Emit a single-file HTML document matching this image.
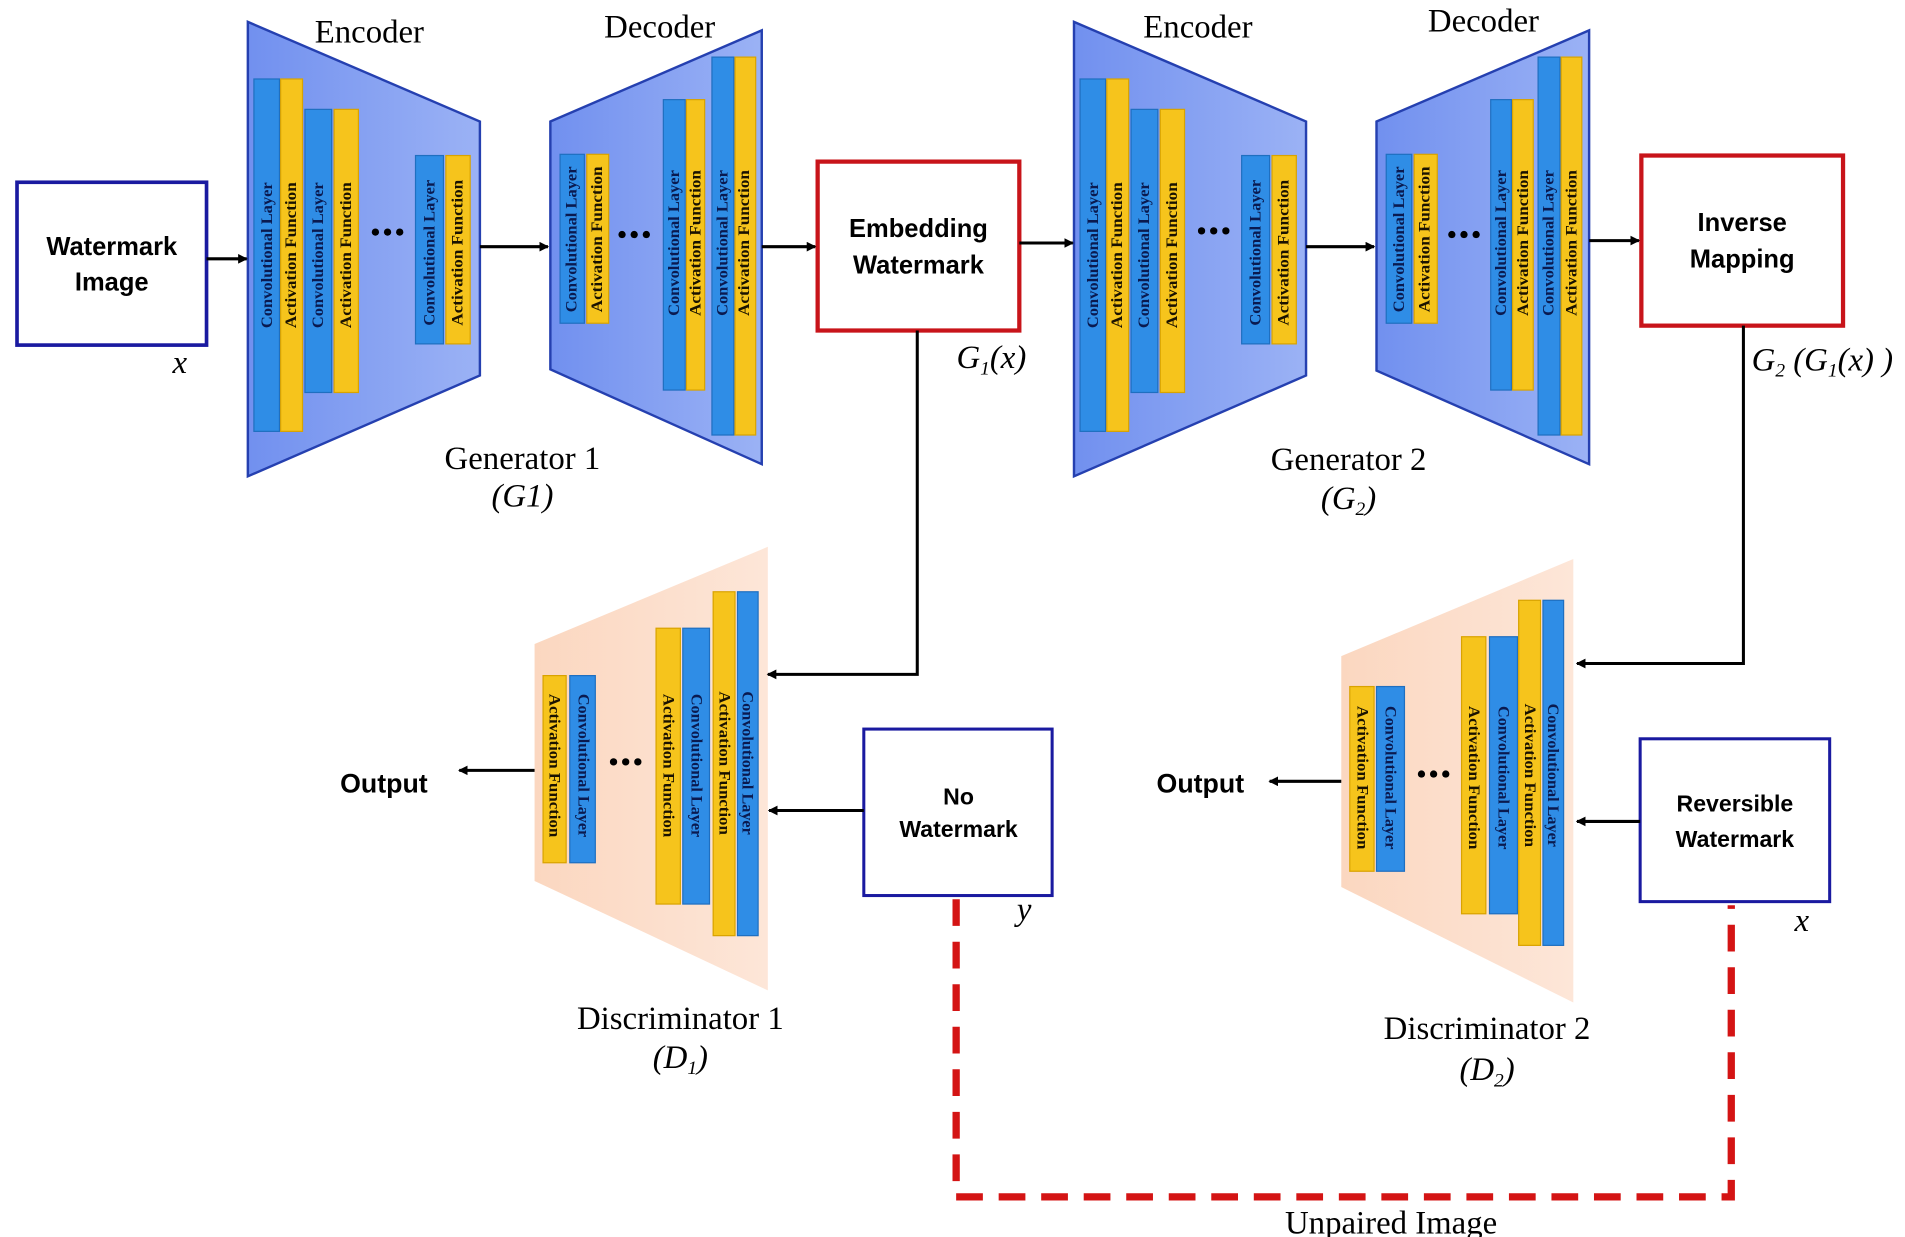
<!DOCTYPE html>
<html><head><meta charset="utf-8"><style>html,body{margin:0;padding:0;background:#fff}svg{display:block}</style></head>
<body>
<svg width="1905" height="1237" viewBox="0 0 1568 1018" preserveAspectRatio="none" xmlns="http://www.w3.org/2000/svg">
<defs>
<linearGradient id="gb" x1="0" x2="1"><stop offset="0" stop-color="#7190ef"/><stop offset="1" stop-color="#9bb2f5"/></linearGradient>
<linearGradient id="gp" x1="0" x2="1"><stop offset="0" stop-color="#fbd7c0"/><stop offset="1" stop-color="#fde6d8"/></linearGradient>
<marker id="ar" markerWidth="8" markerHeight="8" refX="7" refY="4" orient="auto" markerUnits="userSpaceOnUse"><path d="M0,0 L8,4 L0,8 Z" fill="#000"/></marker>
<style>
.lbl{font-family:"Liberation Serif",serif;font-size:27px;fill:#000}
.bx{font-family:"Liberation Sans",sans-serif;font-size:21px;font-weight:bold;fill:#000}
.bt{font-family:"Liberation Serif",serif;font-size:13px;font-weight:bold;fill:#0a1a50}
.yt{font-family:"Liberation Serif",serif;font-size:13px;font-weight:bold;fill:#1a1200}
.bl{fill:#2f8de6;stroke:#1f6fc0;stroke-width:1}
.yl{fill:#f6c41c;stroke:#d9a300;stroke-width:1}
</style>
</defs>

<polygon points="204,18 395,100 395,309 204,392" fill="url(#gb)" stroke="#2540b0" stroke-width="2"/>
<polygon points="453,100 627,25 627,382 453,304" fill="url(#gb)" stroke="#2540b0" stroke-width="2"/>
<polygon points="884,18 1075,100 1075,309 884,392" fill="url(#gb)" stroke="#2540b0" stroke-width="2"/>
<polygon points="1133,100 1308,25 1308,382 1133,305" fill="url(#gb)" stroke="#2540b0" stroke-width="2"/>
<polygon points="440,530 632,450 632,815 440,725" fill="url(#gp)"/>
<polygon points="1104,540 1295,460 1295,825 1104,730" fill="url(#gp)"/>

<g>
<rect class="bl" x="209" y="65" width="21" height="290"/><rect class="yl" x="231" y="65" width="18" height="290"/>
<rect class="bl" x="251" y="90" width="22" height="233"/><rect class="yl" x="275" y="90" width="20" height="233"/>
<rect class="bl" x="342" y="128" width="23" height="155"/><rect class="yl" x="367" y="128" width="20" height="155"/>
<rect class="bl" x="461" y="127" width="20" height="139"/><rect class="yl" x="483" y="127" width="18" height="139"/>
<rect class="bl" x="546" y="82" width="18" height="239"/><rect class="yl" x="565" y="82" width="15" height="239"/>
<rect class="bl" x="586" y="47" width="18" height="311"/><rect class="yl" x="605" y="47" width="17" height="311"/>
<rect class="bl" x="889" y="65" width="21" height="290"/><rect class="yl" x="911" y="65" width="18" height="290"/>
<rect class="bl" x="931" y="90" width="22" height="233"/><rect class="yl" x="955" y="90" width="20" height="233"/>
<rect class="bl" x="1022" y="128" width="23" height="155"/><rect class="yl" x="1047" y="128" width="20" height="155"/>
<rect class="bl" x="1141" y="127" width="21" height="139"/><rect class="yl" x="1164" y="127" width="19" height="139"/>
<rect class="bl" x="1227" y="82" width="17" height="239"/><rect class="yl" x="1245" y="82" width="17" height="239"/>
<rect class="bl" x="1266" y="47" width="18" height="311"/><rect class="yl" x="1285" y="47" width="17" height="311"/>
</g>
<g text-anchor="middle" dominant-baseline="central">
<text class="bt" transform="translate(220,210) rotate(-90)" textLength="120" lengthAdjust="spacingAndGlyphs">Convolutional Layer</text>
<text class="yt" transform="translate(240,210) rotate(-90)" textLength="120" lengthAdjust="spacingAndGlyphs">Activation Function</text>
<text class="bt" transform="translate(262,210) rotate(-90)" textLength="120" lengthAdjust="spacingAndGlyphs">Convolutional Layer</text>
<text class="yt" transform="translate(285,210) rotate(-90)" textLength="120" lengthAdjust="spacingAndGlyphs">Activation Function</text>
<text class="bt" transform="translate(354,208) rotate(-90)" textLength="120" lengthAdjust="spacingAndGlyphs">Convolutional Layer</text>
<text class="yt" transform="translate(377,208) rotate(-90)" textLength="120" lengthAdjust="spacingAndGlyphs">Activation Function</text>
<text class="bt" transform="translate(471,197) rotate(-90)" textLength="120" lengthAdjust="spacingAndGlyphs">Convolutional Layer</text>
<text class="yt" transform="translate(492,197) rotate(-90)" textLength="120" lengthAdjust="spacingAndGlyphs">Activation Function</text>
<text class="bt" transform="translate(555,200) rotate(-90)" textLength="120" lengthAdjust="spacingAndGlyphs">Convolutional Layer</text>
<text class="yt" transform="translate(573,200) rotate(-90)" textLength="120" lengthAdjust="spacingAndGlyphs">Activation Function</text>
<text class="bt" transform="translate(595,200) rotate(-90)" textLength="120" lengthAdjust="spacingAndGlyphs">Convolutional Layer</text>
<text class="yt" transform="translate(613,200) rotate(-90)" textLength="120" lengthAdjust="spacingAndGlyphs">Activation Function</text>
<text class="bt" transform="translate(900,210) rotate(-90)" textLength="120" lengthAdjust="spacingAndGlyphs">Convolutional Layer</text>
<text class="yt" transform="translate(920,210) rotate(-90)" textLength="120" lengthAdjust="spacingAndGlyphs">Activation Function</text>
<text class="bt" transform="translate(942,210) rotate(-90)" textLength="120" lengthAdjust="spacingAndGlyphs">Convolutional Layer</text>
<text class="yt" transform="translate(965,210) rotate(-90)" textLength="120" lengthAdjust="spacingAndGlyphs">Activation Function</text>
<text class="bt" transform="translate(1034,208) rotate(-90)" textLength="120" lengthAdjust="spacingAndGlyphs">Convolutional Layer</text>
<text class="yt" transform="translate(1057,208) rotate(-90)" textLength="120" lengthAdjust="spacingAndGlyphs">Activation Function</text>
<text class="bt" transform="translate(1152,197) rotate(-90)" textLength="120" lengthAdjust="spacingAndGlyphs">Convolutional Layer</text>
<text class="yt" transform="translate(1173,197) rotate(-90)" textLength="120" lengthAdjust="spacingAndGlyphs">Activation Function</text>
<text class="bt" transform="translate(1236,200) rotate(-90)" textLength="120" lengthAdjust="spacingAndGlyphs">Convolutional Layer</text>
<text class="yt" transform="translate(1254,200) rotate(-90)" textLength="120" lengthAdjust="spacingAndGlyphs">Activation Function</text>
<text class="bt" transform="translate(1275,200) rotate(-90)" textLength="120" lengthAdjust="spacingAndGlyphs">Convolutional Layer</text>
<text class="yt" transform="translate(1294,200) rotate(-90)" textLength="120" lengthAdjust="spacingAndGlyphs">Activation Function</text>
</g>

<rect class="yl" x="447" y="556" width="19" height="154"/><rect class="bl" x="469" y="556" width="21" height="154"/>
<rect class="yl" x="540" y="517" width="20" height="227"/><rect class="bl" x="562" y="517" width="22" height="227"/>
<rect class="yl" x="587" y="487" width="18" height="283"/><rect class="bl" x="607" y="487" width="17" height="283"/>
<rect class="yl" x="1111" y="565" width="20" height="152"/><rect class="bl" x="1133" y="565" width="23" height="152"/>
<rect class="yl" x="1203" y="524" width="20" height="228"/><rect class="bl" x="1226" y="524" width="23" height="228"/>
<rect class="yl" x="1250" y="494" width="18" height="284"/><rect class="bl" x="1270" y="494" width="17" height="284"/>
<g text-anchor="middle" dominant-baseline="central">
<text class="yt" transform="translate(456,630) rotate(90)" textLength="118" lengthAdjust="spacingAndGlyphs">Activation Function</text>
<text class="bt" transform="translate(480,630) rotate(90)" textLength="118" lengthAdjust="spacingAndGlyphs">Convolutional Layer</text>
<text class="yt" transform="translate(550,630) rotate(90)" textLength="118" lengthAdjust="spacingAndGlyphs">Activation Function</text>
<text class="bt" transform="translate(573,630) rotate(90)" textLength="118" lengthAdjust="spacingAndGlyphs">Convolutional Layer</text>
<text class="yt" transform="translate(596,628) rotate(90)" textLength="118" lengthAdjust="spacingAndGlyphs">Activation Function</text>
<text class="bt" transform="translate(615,628) rotate(90)" textLength="118" lengthAdjust="spacingAndGlyphs">Convolutional Layer</text>
<text class="yt" transform="translate(1121,640) rotate(90)" textLength="118" lengthAdjust="spacingAndGlyphs">Activation Function</text>
<text class="bt" transform="translate(1144,640) rotate(90)" textLength="118" lengthAdjust="spacingAndGlyphs">Convolutional Layer</text>
<text class="yt" transform="translate(1213,640) rotate(90)" textLength="118" lengthAdjust="spacingAndGlyphs">Activation Function</text>
<text class="bt" transform="translate(1237,640) rotate(90)" textLength="118" lengthAdjust="spacingAndGlyphs">Convolutional Layer</text>
<text class="yt" transform="translate(1259,638) rotate(90)" textLength="118" lengthAdjust="spacingAndGlyphs">Activation Function</text>
<text class="bt" transform="translate(1278,638) rotate(90)" textLength="118" lengthAdjust="spacingAndGlyphs">Convolutional Layer</text>
</g>

<g fill="#000">
<circle cx="309" cy="191" r="3"/><circle cx="319" cy="191" r="3"/><circle cx="329" cy="191" r="3"/>
<circle cx="512" cy="193" r="3"/><circle cx="522" cy="193" r="3"/><circle cx="532" cy="193" r="3"/>
<circle cx="989" cy="190" r="3"/><circle cx="999" cy="190" r="3"/><circle cx="1009" cy="190" r="3"/>
<circle cx="1195" cy="193" r="3"/><circle cx="1205" cy="193" r="3"/><circle cx="1215" cy="193" r="3"/>
<circle cx="505" cy="627" r="3"/><circle cx="515" cy="627" r="3"/><circle cx="525" cy="627" r="3"/>
<circle cx="1170" cy="637" r="3"/><circle cx="1180" cy="637" r="3"/><circle cx="1190" cy="637" r="3"/>
</g>

<rect x="14" y="150" width="156" height="134" fill="#fff" stroke="#1a1aa0" stroke-width="3"/>
<rect x="673" y="133" width="166" height="139" fill="#fff" stroke="#c8141a" stroke-width="3.5"/>
<rect x="1351" y="128" width="166" height="140" fill="#fff" stroke="#c8141a" stroke-width="3.5"/>
<rect x="711" y="600" width="155" height="137" fill="#fff" stroke="#1a1aa0" stroke-width="2.5"/>
<rect x="1350" y="608" width="156" height="134" fill="#fff" stroke="#1a1aa0" stroke-width="2.5"/>
<g class="bx" text-anchor="middle">
<text x="92" y="210">Watermark</text><text x="92" y="239">Image</text>
<text x="756" y="195">Embedding</text><text x="756" y="225">Watermark</text>
<text x="1434" y="190">Inverse</text><text x="1434" y="220">Mapping</text>
<text x="789" y="662" font-size="19">No</text><text x="789" y="689" font-size="19">Watermark</text>
<text x="1428" y="668" font-size="19">Reversible</text><text x="1428" y="697" font-size="19">Watermark</text>
<text x="316" y="652" font-size="22">Output</text><text x="988" y="652" font-size="22">Output</text>
</g>

<g stroke="#000" stroke-width="2.5" fill="none" marker-end="url(#ar)">
<line x1="170" y1="213" x2="203" y2="213"/>
<line x1="395" y1="203" x2="451" y2="203"/>
<line x1="627" y1="203" x2="671" y2="203"/>
<line x1="839" y1="200" x2="883" y2="200"/>
<line x1="1075" y1="203" x2="1131" y2="203"/>
<line x1="1308" y1="198" x2="1349" y2="198"/>
<polyline points="755,272 755,555 632,555"/>
<polyline points="1435,268 1435,546 1298,546"/>
<line x1="711" y1="667" x2="633" y2="667"/>
<line x1="1350" y1="676" x2="1298" y2="676"/>
<line x1="440" y1="634" x2="378" y2="634"/>
<line x1="1104" y1="643" x2="1045" y2="643"/>
</g>
<polyline points="787,740 787,985 1425,985 1425,745" fill="none" stroke="#d41414" stroke-width="6" stroke-dasharray="22,13"/>

<g class="lbl" text-anchor="middle">
<text x="304" y="35">Encoder</text><text x="543" y="31">Decoder</text>
<text x="986" y="31">Encoder</text><text x="1221" y="26">Decoder</text>
<text x="430" y="386">Generator 1</text>
<text x="430" y="417" font-style="italic">(G1)</text>
<text x="1110" y="387">Generator 2</text>
<text x="1110" y="419" font-style="italic">(G<tspan font-size="16" dy="5">2</tspan><tspan dy="-5">)</tspan></text>
<text x="560" y="847">Discriminator 1</text>
<text x="560" y="879" font-style="italic">(D<tspan font-size="16" dy="5">1</tspan><tspan dy="-5">)</tspan></text>
<text x="1224" y="855">Discriminator 2</text>
<text x="1224" y="889" font-style="italic">(D<tspan font-size="16" dy="5">2</tspan><tspan dy="-5">)</tspan></text>
<text x="1145" y="1015">Unpaired Image</text>
<text x="148" y="307" font-style="italic">x</text>
<text x="843" y="757" font-style="italic">y</text>
<text x="1483" y="766" font-style="italic">x</text>
<text x="816" y="303" font-style="italic">G<tspan font-size="16" dy="5">1</tspan><tspan dy="-5">(x)</tspan></text>
<text x="1500" y="305" font-style="italic">G<tspan font-size="16" dy="5">2</tspan><tspan dy="-5"> (G</tspan><tspan font-size="16" dy="5">1</tspan><tspan dy="-5">(x) )</tspan></text>
</g>
</svg>
</body></html>
